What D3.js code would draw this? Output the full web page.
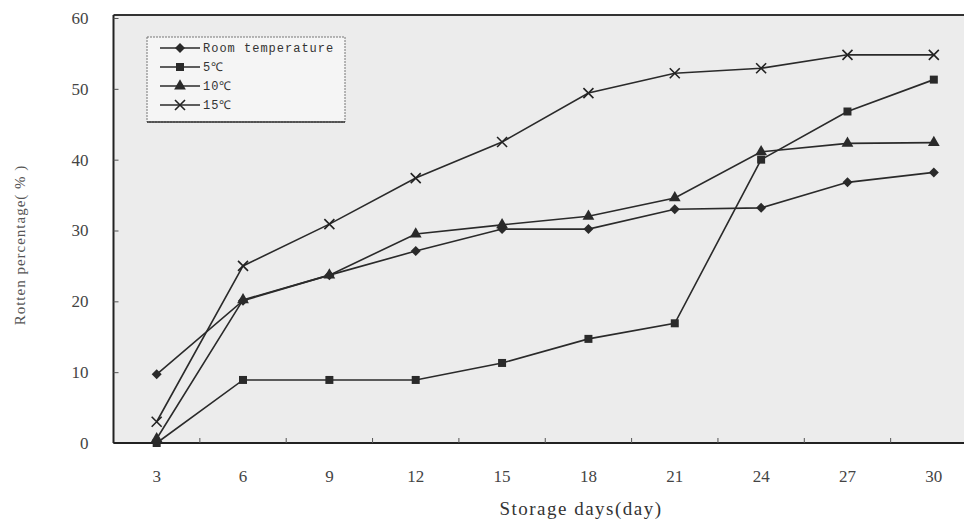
<!DOCTYPE html>
<html>
<head>
<meta charset="utf-8">
<script src="https://cdn.jsdelivr.net/npm/d3@7"></script>
<style>
  body { margin: 0; background: #fff; }
  svg { display: block; }
  .tick text { font-family: "Liberation Serif", "DejaVu Serif", serif; fill: #444; }
</style>
</head>
<body>
<svg width="964" height="523"></svg>
<script>
// **** Data ****

var days = [3, 6, 9, 12, 15, 18, 21, 24, 27, 30];

var roomTemp = [9.7, 20.1, 23.7, 27.1, 30.2, 30.2, 33.0, 33.2, 36.8, 38.2];
var fiveC    = [0.0, 8.9, 8.9, 8.9, 11.3, 14.7, 16.9, 40.0, 46.8, 51.3];
var tenC     = [0.6, 20.2, 23.7, 29.5, 30.8, 32.0, 34.6, 41.1, 42.3, 42.4];
var fifteenC = [3.0, 25.0, 30.9, 37.4, 42.5, 49.4, 52.2, 52.9, 54.8, 54.8];

var seriesNames = ["Room temperature", "5\u2103", "10\u2103", "15\u2103"];
var seriesMarks = ["diamond", "square", "triangle", "cross"];

var yTicks = [0, 10, 20, 30, 40, 50, 60];

var series = [roomTemp, fiveC, tenC, fifteenC].map(function(vals, i) {
    return {
        name: seriesNames[i],
        mark: seriesMarks[i],
        values: vals.map(function(v, j) { return { day: days[j], value: v }; })
    };
});

// **** Scales and axes ****

var svg = d3.select("svg");

var plotLeft = 113.5, plotRight = 977, plotTop = 15, plotBottom = 443;

var xBand = d3.scaleBand().domain(days).range([plotLeft, plotRight]).padding(0);
function scaleDay(d) { return xBand(d) + xBand.bandwidth() / 2; }

var yScale = d3.scaleLinear().domain([0, 60]).range([plotBottom, 18]);

// plot area
svg.append("rect")
    .attr("x", plotLeft).attr("y", plotTop)
    .attr("width", 964 - plotLeft).attr("height", plotBottom - plotTop)
    .style("fill", "#ececec");

// top border
svg.append("line")
    .attr("x1", plotLeft).attr("x2", 964)
    .attr("y1", plotTop).attr("y2", plotTop)
    .style("stroke", "#333").style("stroke-width", 2);

svg.append("g").attr("class", "y axis")
    .attr("transform", "translate(" + plotLeft + ",0)")
    .call(d3.axisLeft(yScale).tickValues(yTicks).tickSize(-5).tickPadding(25))
    .call(g => g.select(".domain").attr("d", "M0," + plotTop + "V" + plotBottom)
        .style("stroke", "#222").style("stroke-width", 2))
    .call(g => g.selectAll(".tick line").style("stroke", "#555"))
    .call(g => g.selectAll(".tick text").style("font-size", "17px"));

var xAxis = svg.append("g").attr("class", "x axis")
    .attr("transform", "translate(0," + plotBottom + ")")
    .call(d3.axisBottom(xBand).tickSize(0).tickPadding(27))
    .call(g => g.select(".domain").attr("d", "M" + plotLeft + ",0H964")
        .style("stroke", "#222").style("stroke-width", 2))
    .call(g => g.selectAll(".tick text").style("font-size", "17px"));

// ticks between categories
xAxis.selectAll(".bound")
    .data(days.slice(1))
    .enter()
    .append("line")
    .attr("class", "bound")
    .attr("x1", d => xBand(d)).attr("x2", d => xBand(d))
    .attr("y1", 0).attr("y2", -5)
    .style("stroke", "#555");

svg.append("text")
    .attr("class", "x label")
    .attr("text-anchor", "middle")
    .attr("x", 581)
    .attr("y", 515)
    .style("font-family", "'Liberation Serif', serif")
    .style("font-size", "19px")
    .style("letter-spacing", "1.5px")
    .style("fill", "#333")
    .text("Storage days(day)");

svg.append("text")
    .attr("class", "y label")
    .attr("text-anchor", "middle")
    .attr("transform", "translate(25,245) rotate(-90)")
    .style("font-family", "'Liberation Serif', serif")
    .style("font-size", "15px")
    .style("letter-spacing", "1px")
    .style("fill", "#555")
    .text("Rotten percentage( % )");

// **** Lines and markers ****

var line = d3.line()
    .x(d => scaleDay(d.day))
    .y(d => yScale(d.value));

function drawMark(sel, mark) {
    if (mark === "cross") {
        sel.append("path")
            .attr("d", "M-5,-5L5,5M-5,5L5,-5")
            .style("stroke", "#222").style("stroke-width", 1.6).style("fill", "none");
    } else if (mark === "diamond") {
        sel.append("path")
            .attr("d", "M0,-5L5,0L0,5L-5,0Z")
            .style("fill", "#2a2a2a");
    } else {
        var type = { square: d3.symbolSquare, triangle: d3.symbolTriangle }[mark];
        var size = { square: 64, triangle: 60 }[mark];
        sel.append("path")
            .attr("d", d3.symbol().type(type).size(size))
            .style("fill", "#2a2a2a");
    }
}

var s = svg.selectAll(".series")
    .data(series)
    .enter()
    .append("g")
    .attr("class", "series");

s.append("path")
    .attr("d", d => line(d.values))
    .style("fill", "none")
    .style("stroke", "#2a2a2a")
    .style("stroke-width", 1.6);

s.each(function(ser) {
    d3.select(this).selectAll(".pt")
        .data(ser.values)
        .enter()
        .append("g")
        .attr("class", "pt")
        .attr("transform", d => `translate(${scaleDay(d.day)},${yScale(d.value)})`)
        .call(g => drawMark(g, ser.mark));
});

// **** Legend ****

var legend = svg.append("g").attr("transform", "translate(147,37)");

legend.append("rect")
    .attr("width", 198).attr("height", 85)
    .style("fill", "#f5f5f5")
    .style("stroke", "#777")
    .style("stroke-dasharray", "2,1");

legend.append("line")
    .attr("x1", 0).attr("x2", 198).attr("y1", 85).attr("y2", 85)
    .style("stroke", "#333").style("stroke-width", 1.5);

var item = legend.selectAll(".item")
    .data(series)
    .enter()
    .append("g")
    .attr("class", "item")
    .attr("transform", (d, i) => `translate(0,${11 + i * 19})`);

item.append("line")
    .attr("x1", 13).attr("x2", 53)
    .style("stroke", "#2a2a2a").style("stroke-width", 1.5);

item.append("g")
    .attr("transform", "translate(33,0)")
    .each(function(d) { drawMark(d3.select(this), d.mark); });

item.append("text")
    .attr("x", 56)
    .attr("dy", "0.35em")
    .style("font-family", "'Liberation Mono', monospace")
    .style("font-size", "12px")
    .style("letter-spacing", "1px")
    .style("fill", "#333")
    .text(d => d.name);
</script>
</body>
</html>
